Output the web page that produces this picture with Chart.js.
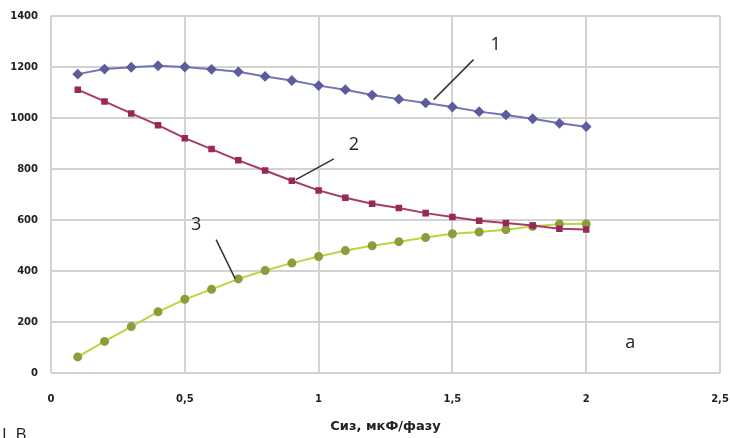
<!DOCTYPE html>
<html>
<head>
<meta charset="utf-8">
<script src="https://cdn.jsdelivr.net/npm/chart.js@4/dist/chart.umd.min.js"></script>
<style>
  html, body { margin: 0; padding: 0; background: #fff; }
  #wrap { width: 730px; height: 438px; position: relative; }
</style>
</head>
<body>
<div id="wrap"><canvas id="chart" width="730" height="438"></canvas></div>
<script>
// значения
const xValues = [0.1, 0.2, 0.3, 0.4, 0.5, 0.6, 0.7, 0.8, 0.9, 1.0,
                 1.1, 1.2, 1.3, 1.4, 1.5, 1.6, 1.7, 1.8, 1.9, 2.0];
const curve1 = [1172, 1192, 1199, 1205, 1200, 1191, 1181, 1163, 1147, 1127,
                1111, 1090, 1074, 1059, 1043, 1025, 1012, 997, 979, 966];
const curve2 = [1111, 1065, 1018, 972, 921, 878, 834, 794, 754, 716,
                687, 664, 647, 627, 612, 597, 588, 578, 566, 563];
const curve3 = [63, 124, 182, 240, 289, 328, 369, 402, 431, 457,
                480, 499, 515, 531, 546, 553, 562, 575, 584, 585];
const xTicks = [0, 0.5, 1, 1.5, 2, 2.5];
const yTicks = [0, 200, 400, 600, 800, 1000, 1200, 1400];
const xTitle = 'Сиз, мкФ/фазу';

// подписи кривых: текст, позиция, выноска (в единицах осей)
const labels = [
  { text: '1', at: [1.662, 1287], from: [1.430, 1072], to: [1.579, 1229] },
  { text: '2', at: [1.132, 895], from: [0.915, 758], to: [1.057, 840] },
  { text: '3', at: [0.542, 582], from: [0.688, 370], to: [0.617, 523] },
  { text: 'a', at: [2.165, 119] }
];

const pts = arr => arr.map((v, i) => ({ x: xValues[i], y: v }));

const annotate = {
  id: 'annotate',
  afterDatasetsDraw(chart) {
    const { ctx, scales: { x, y } } = chart;
    ctx.save();
    ctx.strokeStyle = '#333';
    ctx.lineWidth = 1.5;
    ctx.fillStyle = '#222';
    ctx.font = '18px "Open Sans", "DejaVu Sans", sans-serif';
    ctx.textAlign = 'center';
    ctx.textBaseline = 'middle';
    labels.forEach(l => {
      if (l.from) {
        ctx.beginPath();
        ctx.moveTo(x.getPixelForValue(l.from[0]), y.getPixelForValue(l.from[1]));
        ctx.lineTo(x.getPixelForValue(l.to[0]), y.getPixelForValue(l.to[1]));
        ctx.stroke();
      }
      ctx.fillText(l.text, x.getPixelForValue(l.at[0]), y.getPixelForValue(l.at[1]));
    });
    // обрезанная подпись внизу слева
    ctx.textAlign = 'left';
    ctx.textBaseline = 'top';
    ctx.font = '17px "Open Sans", sans-serif';
    ctx.fillText('I, В', 2, 427);
    ctx.restore();
  }
};

new Chart(document.getElementById('chart'), {
  type: 'line',
  data: {
    datasets: [
      {
        data: pts(curve1),
        borderColor: '#7474b4',
        backgroundColor: '#5c5c9e',
        pointBorderColor: '#5c5c9e',
        pointStyle: 'rectRot',
        pointRadius: 4,
        borderWidth: 2
      },
      {
        data: pts(curve2),
        borderColor: '#a83a68',
        backgroundColor: '#982858',
        pointBorderColor: '#982858',
        pointStyle: 'rect',
        pointRadius: 3.2,
        borderWidth: 2
      },
      {
        data: pts(curve3),
        borderColor: '#b8d83a',
        backgroundColor: '#8f9c3c',
        pointBorderColor: '#8f9c3c',
        pointStyle: 'circle',
        pointRadius: 3.5,
        borderWidth: 2
      }
    ]
  },
  options: {
    responsive: false,
    animation: false,
    layout: { padding: { top: 16, right: 10, left: 0, bottom: 0 } },
    plugins: { legend: { display: false }, tooltip: { enabled: false } },
    scales: {
      x: {
        type: 'linear',
        min: 0, max: 2.5,
        afterBuildTicks: s => { s.ticks = xTicks.map(v => ({ value: v })); },
        afterFit: s => { s.height = 65; s.paddingLeft = 0; s.paddingRight = 0; },
        grid: { color: '#d2d2d2', lineWidth: 2, drawTicks: false },
        border: { display: false },
        ticks: {
          padding: 20,
          color: '#222',
          font: { family: 'DejaVu Sans', size: 10, weight: 'bold' },
          callback: v => String(v).replace('.', ',')
        },
        title: {
          display: true,
          text: xTitle,
          color: '#222',
          padding: { top: 9 },
          font: { family: 'DejaVu Sans', size: 13, weight: 'bold' }
        }
      },
      y: {
        min: 0, max: 1400,
        afterBuildTicks: s => { s.ticks = yTicks.map(v => ({ value: v })); },
        afterFit: s => { s.width = 51; s.paddingTop = 0; s.paddingBottom = 0; },
        grid: { color: '#d2d2d2', lineWidth: 2, drawTicks: false },
        border: { display: false },
        ticks: {
          padding: 13,
          color: '#222',
          font: { family: 'DejaVu Sans', size: 10, weight: 'bold' },
          callback: v => String(v)
        }
      }
    }
  },
  plugins: [annotate]
});
</script>
</body>
</html>
